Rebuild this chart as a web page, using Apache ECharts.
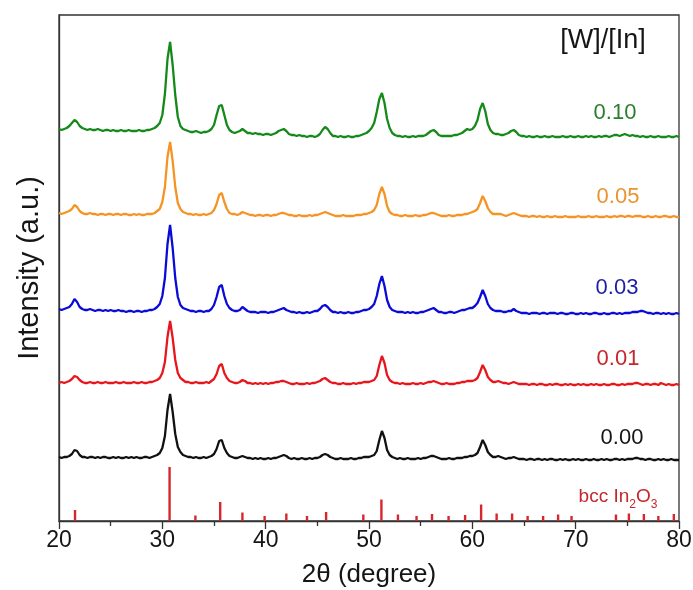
<!DOCTYPE html>
<html>
<head>
<meta charset="utf-8">
<script src="https://cdn.jsdelivr.net/npm/echarts@6/dist/echarts.min.js"></script>
<style>
html,body{margin:0;padding:0;background:#fff;}
#chart{width:693px;height:590px;}
</style>
</head>
<body>
<div id="chart"></div>
<script>
// XRD scan grid (degrees 2theta)
const scanStart = 20, scanStep = 0.25;

// Sample labels ([W]/[In] ratio) and vertical stacking offsets (a.u.)
const ratios = ['0.00', '0.01', '0.03', '0.05', '0.10'];
const stackOffsets = [59, 134, 205, 302, 382];

// Intensities (a.u.), one value per scan step (20.00 .. 80.00)
const i000 = [
  5,4,5,5,6,8,12,11,7,5,5,4,5,5,4,5,4,5,5,4,
  4,5,4,5,4,4,5,4,5,4,5,4,4,5,5,4,5,6,7,9,
  14,26,52,68,50,28,15,10,7,6,5,5,4,5,4,4,5,4,5,6,
  8,13,21,22,14,9,6,5,4,4,5,6,5,4,4,3,4,3,4,3,
  3,4,3,4,4,5,6,7,6,4,3,4,3,3,4,3,3,4,3,4,
  4,5,7,8,7,5,4,3,3,4,3,3,3,4,3,3,4,4,5,5,
  5,6,7,11,22,31,24,12,7,5,4,3,4,3,3,4,3,3,3,4,
  3,4,4,5,6,6,5,4,3,3,3,4,3,3,4,4,4,5,5,6,
  6,7,9,15,22,17,10,7,5,5,6,5,4,3,4,4,5,4,3,3,
  3,2,3,3,2,3,3,2,3,2,3,3,2,2,3,2,3,2,2,3,
  2,3,2,2,3,2,2,3,2,2,3,2,3,2,2,3,3,2,3,2,
  3,3,3,4,4,3,3,2,3,3,2,2,3,2,3,2,2,3,2,2,
  2
];
const i001 = [
  4,5,4,5,6,8,11,10,7,5,4,4,5,4,4,5,4,4,5,4,
  4,4,5,4,4,5,4,4,4,5,4,4,5,4,4,5,5,6,7,9,
  14,25,50,66,49,27,14,9,7,5,5,4,4,5,4,4,4,5,4,6,
  8,13,21,23,14,9,6,5,4,4,5,7,6,4,4,3,4,3,4,3,
  4,3,4,4,5,5,6,6,5,4,3,3,4,3,3,3,4,3,4,4,
  5,6,8,9,7,5,4,4,3,3,4,3,3,3,4,3,4,4,5,5,
  5,6,7,11,22,31,24,12,7,5,4,4,3,4,3,3,3,4,3,3,
  4,3,4,5,5,6,5,4,3,3,4,3,3,3,4,4,5,5,6,6,
  6,7,9,15,22,17,10,7,5,5,6,5,4,4,3,4,5,4,3,3,
  3,3,2,3,3,2,3,3,2,2,3,2,3,3,2,2,3,2,3,2,
  2,3,2,3,2,2,3,2,3,2,2,3,2,2,3,3,2,2,3,2,
  3,3,3,4,4,3,2,3,3,2,3,3,2,4,3,2,3,2,2,3,
  2
];
const i003 = [
  7,6,7,8,9,12,17,14,9,7,6,6,7,6,5,6,6,5,6,5,
  6,5,5,6,5,5,4,5,5,4,5,5,4,5,5,6,6,7,9,12,
  20,38,72,91,68,38,19,11,8,7,6,5,5,4,5,5,4,5,5,7,
  11,19,29,31,20,12,8,6,5,5,6,9,7,5,4,4,4,3,4,4,
  4,3,4,4,5,6,7,8,6,5,4,4,3,4,3,3,4,3,4,5,
  5,7,10,11,9,6,4,4,3,4,3,3,4,3,3,4,4,5,6,6,
  7,9,12,20,32,40,30,16,9,6,5,4,4,4,3,4,3,4,3,3,
  4,4,5,6,7,8,6,4,4,3,3,4,4,3,4,5,6,6,7,8,
  8,10,13,19,26,20,12,8,6,5,5,5,4,4,5,5,7,5,4,3,
  3,3,2,3,3,3,2,3,3,2,3,3,3,2,3,3,2,2,3,3,
  2,2,3,2,3,2,2,3,3,2,2,3,2,2,3,3,2,3,2,3,
  3,3,4,4,4,5,5,4,3,3,2,3,3,2,3,2,3,2,2,3,
  2
];
const i005 = [
  6,5,6,7,8,10,14,12,8,6,5,5,6,5,5,4,5,5,4,5,
  5,4,5,5,4,5,5,4,4,5,4,5,4,4,5,5,5,6,8,10,
  17,32,62,77,58,32,16,10,7,6,5,5,4,5,4,4,5,4,5,6,
  9,15,24,26,17,10,6,5,5,4,5,7,6,5,4,4,3,4,4,3,
  4,4,3,4,4,5,6,6,5,4,4,3,3,4,3,3,3,4,3,4,
  4,5,6,7,6,5,4,3,3,3,4,3,3,3,3,4,4,4,5,5,
  6,7,9,14,25,32,25,13,7,5,4,4,3,3,4,3,3,3,4,3,
  3,4,4,5,6,6,5,4,3,3,3,4,3,3,4,4,4,5,5,6,
  7,8,10,16,23,18,11,7,5,5,5,5,4,3,4,5,6,5,4,3,
  3,3,2,3,3,2,3,2,2,3,2,2,3,2,2,2,3,2,2,2,
  2,3,2,2,2,3,2,2,3,2,2,2,3,2,2,3,2,3,3,2,
  3,3,2,3,3,3,2,2,3,2,2,3,2,2,3,3,2,2,3,2,
  2
];
const i010 = [
  10,9,10,11,13,16,19,17,13,11,10,9,10,9,9,10,9,8,9,9,
  8,9,8,8,9,8,8,9,8,8,8,9,8,8,9,9,10,11,13,16,
  24,45,80,97,74,44,22,13,10,9,8,7,7,8,7,6,7,7,8,10,
  14,24,33,34,24,14,9,7,6,7,8,10,8,6,6,5,6,5,5,4,
  5,5,4,5,6,8,9,10,8,5,4,4,3,4,3,3,2,3,3,2,
  3,5,9,12,10,6,3,3,2,3,2,2,3,2,2,3,3,4,5,6,
  8,11,16,27,40,46,36,20,11,6,4,3,3,2,3,2,2,3,2,3,
  3,3,4,6,8,9,7,4,3,3,3,3,3,4,4,5,6,8,10,9,
  10,13,19,30,36,28,15,9,6,5,5,4,4,5,6,8,9,7,4,3,
  3,2,3,2,2,3,2,2,3,2,2,3,2,2,2,3,2,2,3,2,
  2,3,2,2,3,2,3,2,2,3,2,3,3,2,3,4,4,3,4,5,
  4,3,4,3,3,2,3,2,2,3,2,2,3,2,2,2,3,2,2,3,
  2
];

// Reference pattern: bcc In2O3 (position in 2theta, stick height a.u.)
const refPos = [21.55, 30.7, 33.2, 35.6, 37.75, 39.9, 42.0, 44.0, 45.85, 49.45, 51.2, 52.8, 54.6, 56.1,
                57.7, 59.3, 60.85, 62.35, 63.85, 65.35, 66.85, 68.3, 69.6, 73.9, 75.15, 76.6, 78.0, 79.5];
const refInt = [11, 54, 5.5, 19, 8.5, 5, 7.5, 5, 9, 6.5, 21.5, 6.5, 5, 7,
                5, 6, 16.5, 7.5, 7.5, 5, 5, 6.5, 5, 6.5, 7.5, 7, 5, 7];

const xTicks = [20, 30, 40, 50, 60, 70, 80];

const lineColors = ['#111111', '#e8161c', '#0b0bd8', '#f59424', '#15891a'];
const textColors = ['#151515', '#c4272c', '#1e1ea8', '#ea9330', '#2b7e2d'];
const FONT = '"Liberation Sans", Arial, Helvetica, sans-serif';

const allI = [i000, i001, i003, i005, i010];

const series = allI.map((arr, k) => ({
  type: 'line',
  name: ratios[k],
  showSymbol: false,
  symbol: 'none',
  silent: true,
  animation: false,
  sampling: null,
  lineStyle: { color: lineColors[k], width: 2.3 },
  data: arr.map((v, i) => [scanStart + i * scanStep, v + stackOffsets[k]])
}));

series.push({
  type: 'custom',
  name: 'bcc In2O3',
  silent: true,
  animation: false,
  data: refPos.map((p, i) => [p, refInt[i]]),
  renderItem: function (params, api) {
    const p0 = api.coord([api.value(0), 0]);
    const p1 = api.coord([api.value(0), api.value(1)]);
    return {
      type: 'line',
      shape: { x1: p0[0], y1: p0[1], x2: p1[0], y2: p1[1] },
      style: { stroke: '#d6282c', lineWidth: 2.4 }
    };
  }
});

const labelPos = [[622, 438], [618, 359], [617, 288], [618, 197], [615, 113]];

const graphics = ratios.map((r, k) => ({
  type: 'text',
  x: labelPos[k][0], y: labelPos[k][1],
  style: {
    text: r, fill: textColors[k], font: '22px ' + FONT,
    align: 'center', verticalAlign: 'middle'
  }
}));
graphics.push({
  type: 'text', x: 603, y: 41,
  style: { text: '[W]/[In]', fill: '#151515', font: '27px ' + FONT, align: 'center', verticalAlign: 'middle' }
});
graphics.push({
  type: 'text', x: 618, y: 499,
  style: {
    text: '{a|bcc In}{s|2}{a|O}{s|3}',
    align: 'center', verticalAlign: 'middle',
    rich: {
      a: { fontSize: 19, fontFamily: FONT, fill: '#c4272c', color: '#c4272c', padding: [0, 0, 5, 0], verticalAlign: 'bottom' },
      s: { fontSize: 12, fontFamily: FONT, fill: '#c4272c', color: '#c4272c', verticalAlign: 'bottom' }
    }
  }
});

const chart = echarts.init(document.getElementById('chart'), null, { renderer: 'canvas' });
chart.setOption({
  animation: false,
  backgroundColor: '#ffffff',
  grid: {
    left: 59, right: 14, top: 15, bottom: 69, containLabel: false, outerBoundsMode: 'none',
    show: true, borderColor: '#333', borderWidth: 1.3, backgroundColor: 'transparent'
  },
  xAxis: {
    type: 'value', min: xTicks[0], max: xTicks[xTicks.length - 1], interval: 10,
    name: '2θ (degree)', nameLocation: 'middle', nameGap: 41,
    nameTextStyle: { fontSize: 26, color: '#151515', fontFamily: FONT },
    axisLine: { show: true, lineStyle: { color: '#333', width: 1.3 } },
    axisTick: { show: true, inside: false, length: 8, lineStyle: { color: '#333', width: 1.3 } },
    minorTick: { show: true, splitNumber: 2, length: 5, lineStyle: { color: '#333', width: 1.3 } },
    axisLabel: { fontSize: 23, color: '#151515', fontFamily: FONT, margin: 8 },
    splitLine: { show: false }
  },
  yAxis: {
    type: 'value', min: 0, max: 506,
    name: 'Intensity (a.u.)', nameLocation: 'middle', nameGap: 15, nameRotate: 90,
    nameTextStyle: { fontSize: 29, color: '#151515', fontFamily: FONT },
    axisLine: { show: true, lineStyle: { color: '#333', width: 1.3 } },
    axisTick: { show: false },
    axisLabel: { show: false },
    splitLine: { show: false }
  },
  series: series,
  graphic: graphics
});
</script>
</body>
</html>
